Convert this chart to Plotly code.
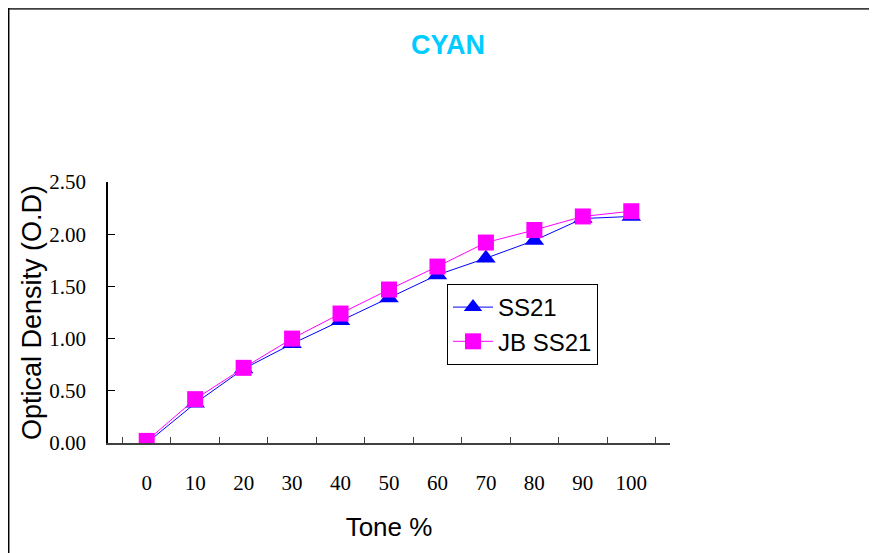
import plotly.graph_objects as go

tone = ["0", "10", "20", "30", "40", "50", "60", "70", "80", "90", "100"]
ss21 = [0.00, 0.38, 0.71, 0.95, 1.17, 1.39, 1.61, 1.77, 1.94, 2.15, 2.17]
jb_ss21 = [0.02, 0.42, 0.72, 1.00, 1.24, 1.47, 1.69, 1.92, 2.04, 2.17, 2.22]
y_ticks = [0, 0.5, 1.0, 1.5, 2.0, 2.5]

# page puts the figure 8px in from the top-left corner
OFF = 8
W, H = 877 - OFF, 553 - OFF
L, R, T, B = 108 - OFF, 670 - OFF, 182 - OFF, 443 - OFF


def px(x):
    return (x - OFF - L) / (R - L)


def py(y):
    return (B - (y - OFF)) / (B - T)


fig = go.Figure()
fig.add_trace(go.Scatter(
    x=tone, y=ss21, name="SS21", mode="lines+markers",
    line=dict(color="#0000FF", width=1),
    marker=dict(symbol="triangle-up", size=17, color="#0000FF"),
))
fig.add_trace(go.Scatter(
    x=tone, y=jb_ss21, name="JB SS21", mode="lines+markers",
    line=dict(color="#FF00FF", width=1),
    marker=dict(symbol="square", size=16, color="#FF00FF"),
))

# outer chart frame (top and left edges visible)
fig.add_shape(type="line", xref="paper", yref="paper",
              x0=px(8), x1=px(900), y0=py(8.5), y1=py(8.5),
              line=dict(color="#404040", width=2.5))
fig.add_shape(type="line", xref="paper", yref="paper",
              x0=px(8.7), x1=px(8.7), y0=py(8), y1=py(600),
              line=dict(color="#000000", width=1.5))

fig.update_layout(
    width=W, height=H,
    margin=dict(l=L, r=W - R, t=T, b=H - B),
    paper_bgcolor="white", plot_bgcolor="white",
    title=dict(text="<b>CYAN</b>", xref="paper", x=px(448), xanchor="center",
               yref="container", y=1 - (45 - OFF) / H, yanchor="middle",
               font=dict(family="Liberation Sans", size=27, color="#00CCFF")),
    showlegend=True,
    legend=dict(x=px(447), y=py(284), xanchor="left", yanchor="top",
                bordercolor="#000000", borderwidth=1, bgcolor="white",
                font=dict(family="Liberation Sans", size=24, color="#000000"),
                itemwidth=40, tracegroupgap=0),
    font=dict(family="Liberation Serif", color="#000000"),
)
fig.update_xaxes(
    type="category", showgrid=False, zeroline=False,
    showline=True, linecolor="#404040", linewidth=1.5,
    ticks="inside", tickson="boundaries", ticklen=6, tickcolor="#404040",
    tickfont=dict(family="Liberation Serif", size=21, color="#000000"),
    ticklabelstandoff=20,
    title=dict(text="Tone %", standoff=24,
               font=dict(family="Liberation Sans", size=26, color="#000000")),
)
fig.update_yaxes(
    range=[0, 2.5], tickvals=y_ticks, tickformat=".2f",
    showgrid=False, zeroline=False,
    showline=True, linecolor="#000000", linewidth=1.5,
    ticks="inside", ticklen=7, tickcolor="#000000",
    tickfont=dict(family="Liberation Serif", size=21, color="#000000"),
    ticklabelstandoff=16,
    title=dict(text="Optical Density (O.D)", standoff=0,
               font=dict(family="Liberation Sans", size=27, color="#000000")),
)

fig.write_html("out.html")
